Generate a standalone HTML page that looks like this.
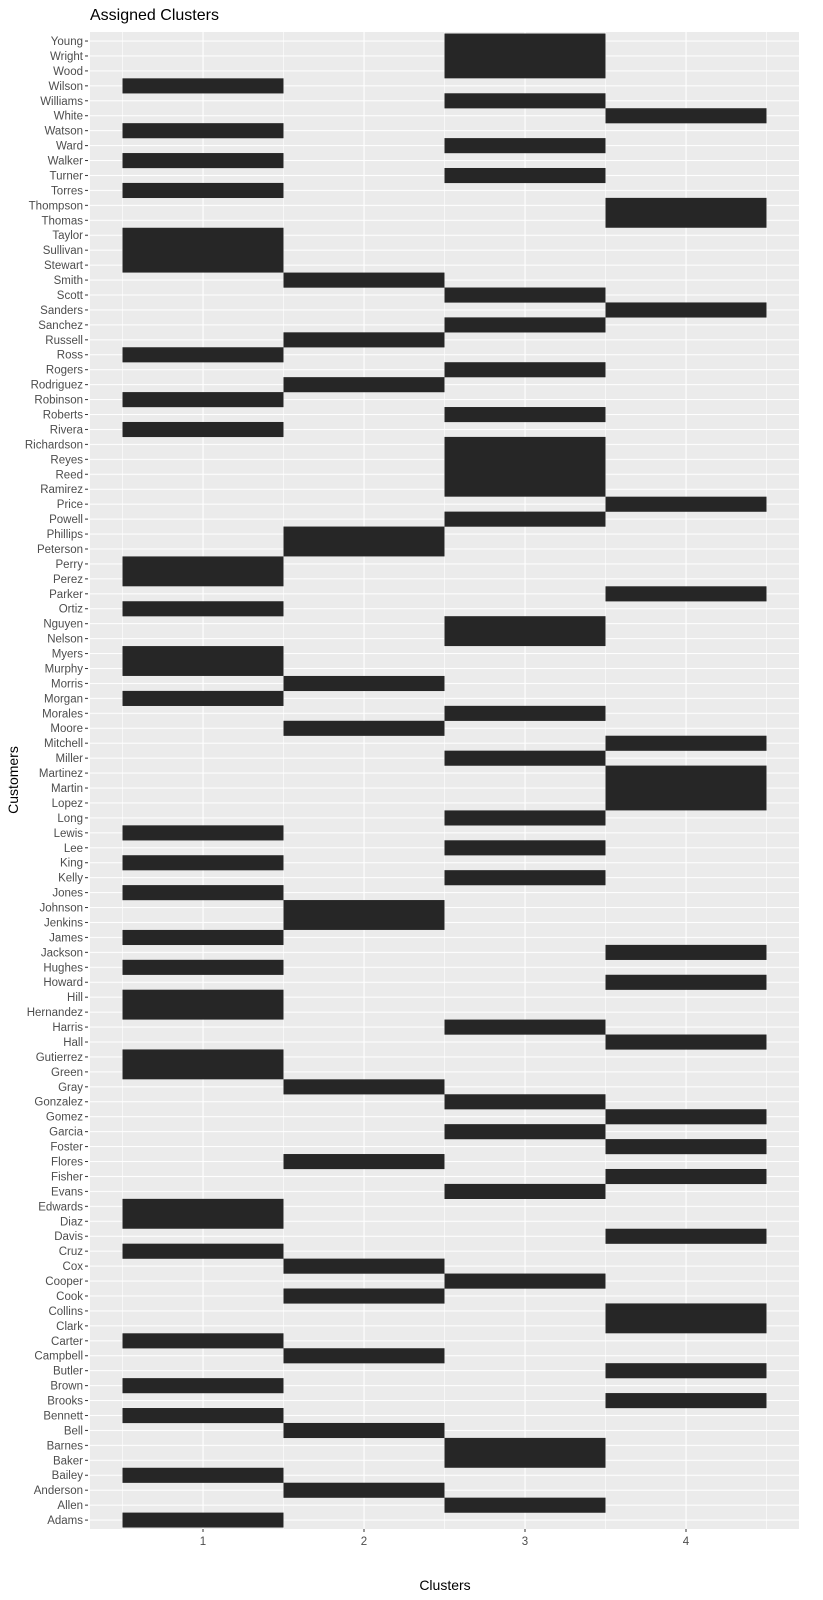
<!DOCTYPE html>
<html><head><meta charset="utf-8"><style>
html,body{margin:0;padding:0;background:#fff;}
svg{display:block;font-family:"Liberation Sans",Arial,sans-serif;}
</style></head><body>
<svg width="823" height="1600" viewBox="0 0 823 1600" xmlns="http://www.w3.org/2000/svg">
<defs>
<pattern id="hg" patternUnits="userSpaceOnUse" x="0" y="33.53" width="823" height="14.94">
<rect x="0" y="7.0" width="823" height="1" fill="#fff"/>
</pattern>
<pattern id="tk" patternUnits="userSpaceOnUse" x="0" y="33.53" width="10" height="14.94">
<rect x="0" y="7.0" width="10" height="1" fill="#333"/>
</pattern>
</defs>
<text x="90" y="20" font-size="16" fill="#000">Assigned Clusters</text>
<rect x="90" y="32" width="709" height="1497" fill="#EBEBEB"/>
<rect x="90" y="32" width="709" height="1497" fill="url(#hg)"/>
<g fill="#fff">
<rect x="122.2" y="32" width="0.6" height="1497"/>
<rect x="283.2" y="32" width="0.6" height="1497"/>
<rect x="444.2" y="32" width="0.6" height="1497"/>
<rect x="605.2" y="32" width="0.6" height="1497"/>
<rect x="766.2" y="32" width="0.6" height="1497"/>
<rect x="202.5" y="32" width="1.1" height="1497"/>
<rect x="363.5" y="32" width="1.1" height="1497"/>
<rect x="524.5" y="32" width="1.1" height="1497"/>
<rect x="685.5" y="32" width="1.1" height="1497"/>
</g>
<g transform="translate(122.5,33.53) scale(161,14.94)" fill="#262626">
<rect x="2" y="0" width="1" height="3"/>
<rect x="0" y="3" width="1" height="1.01"/>
<rect x="2" y="4" width="1" height="1.01"/>
<rect x="3" y="5" width="1" height="1.01"/>
<rect x="0" y="6" width="1" height="1.01"/>
<rect x="2" y="7" width="1" height="1.01"/>
<rect x="0" y="8" width="1" height="1.01"/>
<rect x="2" y="9" width="1" height="1.01"/>
<rect x="0" y="10" width="1" height="1.01"/>
<rect x="3" y="11" width="1" height="2"/>
<rect x="0" y="13" width="1" height="3"/>
<rect x="1" y="16" width="1" height="1.01"/>
<rect x="2" y="17" width="1" height="1.01"/>
<rect x="3" y="18" width="1" height="1.01"/>
<rect x="2" y="19" width="1" height="1.01"/>
<rect x="1" y="20" width="1" height="1.01"/>
<rect x="0" y="21" width="1" height="1.01"/>
<rect x="2" y="22" width="1" height="1.01"/>
<rect x="1" y="23" width="1" height="1.01"/>
<rect x="0" y="24" width="1" height="1.01"/>
<rect x="2" y="25" width="1" height="1.01"/>
<rect x="0" y="26" width="1" height="1.01"/>
<rect x="2" y="27" width="1" height="4"/>
<rect x="3" y="31" width="1" height="1.01"/>
<rect x="2" y="32" width="1" height="1.01"/>
<rect x="1" y="33" width="1" height="2"/>
<rect x="0" y="35" width="1" height="2"/>
<rect x="3" y="37" width="1" height="1.01"/>
<rect x="0" y="38" width="1" height="1.01"/>
<rect x="2" y="39" width="1" height="2"/>
<rect x="0" y="41" width="1" height="2"/>
<rect x="1" y="43" width="1" height="1.01"/>
<rect x="0" y="44" width="1" height="1.01"/>
<rect x="2" y="45" width="1" height="1.01"/>
<rect x="1" y="46" width="1" height="1.01"/>
<rect x="3" y="47" width="1" height="1.01"/>
<rect x="2" y="48" width="1" height="1.01"/>
<rect x="3" y="49" width="1" height="3"/>
<rect x="2" y="52" width="1" height="1.01"/>
<rect x="0" y="53" width="1" height="1.01"/>
<rect x="2" y="54" width="1" height="1.01"/>
<rect x="0" y="55" width="1" height="1.01"/>
<rect x="2" y="56" width="1" height="1.01"/>
<rect x="0" y="57" width="1" height="1.01"/>
<rect x="1" y="58" width="1" height="2"/>
<rect x="0" y="60" width="1" height="1.01"/>
<rect x="3" y="61" width="1" height="1.01"/>
<rect x="0" y="62" width="1" height="1.01"/>
<rect x="3" y="63" width="1" height="1.01"/>
<rect x="0" y="64" width="1" height="2"/>
<rect x="2" y="66" width="1" height="1.01"/>
<rect x="3" y="67" width="1" height="1.01"/>
<rect x="0" y="68" width="1" height="2"/>
<rect x="1" y="70" width="1" height="1.01"/>
<rect x="2" y="71" width="1" height="1.01"/>
<rect x="3" y="72" width="1" height="1.01"/>
<rect x="2" y="73" width="1" height="1.01"/>
<rect x="3" y="74" width="1" height="1.01"/>
<rect x="1" y="75" width="1" height="1.01"/>
<rect x="3" y="76" width="1" height="1.01"/>
<rect x="2" y="77" width="1" height="1.01"/>
<rect x="0" y="78" width="1" height="2"/>
<rect x="3" y="80" width="1" height="1.01"/>
<rect x="0" y="81" width="1" height="1.01"/>
<rect x="1" y="82" width="1" height="1.01"/>
<rect x="2" y="83" width="1" height="1.01"/>
<rect x="1" y="84" width="1" height="1.01"/>
<rect x="3" y="85" width="1" height="2"/>
<rect x="0" y="87" width="1" height="1.01"/>
<rect x="1" y="88" width="1" height="1.01"/>
<rect x="3" y="89" width="1" height="1.01"/>
<rect x="0" y="90" width="1" height="1.01"/>
<rect x="3" y="91" width="1" height="1.01"/>
<rect x="0" y="92" width="1" height="1.01"/>
<rect x="1" y="93" width="1" height="1.01"/>
<rect x="2" y="94" width="1" height="2"/>
<rect x="0" y="96" width="1" height="1.01"/>
<rect x="1" y="97" width="1" height="1.01"/>
<rect x="2" y="98" width="1" height="1.01"/>
<rect x="0" y="99" width="1" height="1"/>
</g>
<rect x="85" y="32" width="3" height="1497" fill="url(#tk)"/>
<g fill="#333">
<rect x="202.5" y="1529" width="1" height="3"/>
<rect x="363.5" y="1529" width="1" height="3"/>
<rect x="524.5" y="1529" width="1" height="3"/>
<rect x="685.5" y="1529" width="1" height="3"/>
</g>
<g font-size="11.5" fill="#4D4D4D" text-anchor="end">
<text x="83" y="45.0">Young</text>
<text x="83" y="59.9">Wright</text>
<text x="83" y="74.9">Wood</text>
<text x="83" y="89.8">Wilson</text>
<text x="83" y="104.8">Williams</text>
<text x="83" y="119.7">White</text>
<text x="83" y="134.6">Watson</text>
<text x="83" y="149.6">Ward</text>
<text x="83" y="164.5">Walker</text>
<text x="83" y="179.5">Turner</text>
<text x="83" y="194.4">Torres</text>
<text x="83" y="209.3">Thompson</text>
<text x="83" y="224.3">Thomas</text>
<text x="83" y="239.2">Taylor</text>
<text x="83" y="254.2">Sullivan</text>
<text x="83" y="269.1">Stewart</text>
<text x="83" y="284.0">Smith</text>
<text x="83" y="299.0">Scott</text>
<text x="83" y="313.9">Sanders</text>
<text x="83" y="328.9">Sanchez</text>
<text x="83" y="343.8">Russell</text>
<text x="83" y="358.7">Ross</text>
<text x="83" y="373.7">Rogers</text>
<text x="83" y="388.6">Rodriguez</text>
<text x="83" y="403.6">Robinson</text>
<text x="83" y="418.5">Roberts</text>
<text x="83" y="433.4">Rivera</text>
<text x="83" y="448.4">Richardson</text>
<text x="83" y="463.3">Reyes</text>
<text x="83" y="478.3">Reed</text>
<text x="83" y="493.2">Ramirez</text>
<text x="83" y="508.1">Price</text>
<text x="83" y="523.1">Powell</text>
<text x="83" y="538.0">Phillips</text>
<text x="83" y="553.0">Peterson</text>
<text x="83" y="567.9">Perry</text>
<text x="83" y="582.8">Perez</text>
<text x="83" y="597.8">Parker</text>
<text x="83" y="612.7">Ortiz</text>
<text x="83" y="627.7">Nguyen</text>
<text x="83" y="642.6">Nelson</text>
<text x="83" y="657.5">Myers</text>
<text x="83" y="672.5">Murphy</text>
<text x="83" y="687.4">Morris</text>
<text x="83" y="702.4">Morgan</text>
<text x="83" y="717.3">Morales</text>
<text x="83" y="732.2">Moore</text>
<text x="83" y="747.2">Mitchell</text>
<text x="83" y="762.1">Miller</text>
<text x="83" y="777.1">Martinez</text>
<text x="83" y="792.0">Martin</text>
<text x="83" y="806.9">Lopez</text>
<text x="83" y="821.9">Long</text>
<text x="83" y="836.8">Lewis</text>
<text x="83" y="851.8">Lee</text>
<text x="83" y="866.7">King</text>
<text x="83" y="881.6">Kelly</text>
<text x="83" y="896.6">Jones</text>
<text x="83" y="911.5">Johnson</text>
<text x="83" y="926.5">Jenkins</text>
<text x="83" y="941.4">James</text>
<text x="83" y="956.3">Jackson</text>
<text x="83" y="971.3">Hughes</text>
<text x="83" y="986.2">Howard</text>
<text x="83" y="1001.2">Hill</text>
<text x="83" y="1016.1">Hernandez</text>
<text x="83" y="1031.0">Harris</text>
<text x="83" y="1046.0">Hall</text>
<text x="83" y="1060.9">Gutierrez</text>
<text x="83" y="1075.9">Green</text>
<text x="83" y="1090.8">Gray</text>
<text x="83" y="1105.7">Gonzalez</text>
<text x="83" y="1120.7">Gomez</text>
<text x="83" y="1135.6">Garcia</text>
<text x="83" y="1150.6">Foster</text>
<text x="83" y="1165.5">Flores</text>
<text x="83" y="1180.4">Fisher</text>
<text x="83" y="1195.4">Evans</text>
<text x="83" y="1210.3">Edwards</text>
<text x="83" y="1225.3">Diaz</text>
<text x="83" y="1240.2">Davis</text>
<text x="83" y="1255.1">Cruz</text>
<text x="83" y="1270.1">Cox</text>
<text x="83" y="1285.0">Cooper</text>
<text x="83" y="1300.0">Cook</text>
<text x="83" y="1314.9">Collins</text>
<text x="83" y="1329.8">Clark</text>
<text x="83" y="1344.8">Carter</text>
<text x="83" y="1359.7">Campbell</text>
<text x="83" y="1374.7">Butler</text>
<text x="83" y="1389.6">Brown</text>
<text x="83" y="1404.5">Brooks</text>
<text x="83" y="1419.5">Bennett</text>
<text x="83" y="1434.4">Bell</text>
<text x="83" y="1449.4">Barnes</text>
<text x="83" y="1464.3">Baker</text>
<text x="83" y="1479.2">Bailey</text>
<text x="83" y="1494.2">Anderson</text>
<text x="83" y="1509.1">Allen</text>
<text x="83" y="1524.1">Adams</text>
</g>
<g font-size="11.5" fill="#4D4D4D" text-anchor="middle">
<text x="203" y="1545">1</text>
<text x="364" y="1545">2</text>
<text x="525" y="1545">3</text>
<text x="686" y="1545">4</text>
</g>
<text x="445" y="1590" font-size="14" fill="#000" text-anchor="middle">Clusters</text>
<text x="0" y="0" font-size="14" fill="#000" text-anchor="middle" transform="translate(18,780) rotate(-90)">Customers</text>
</svg>
</body></html>
